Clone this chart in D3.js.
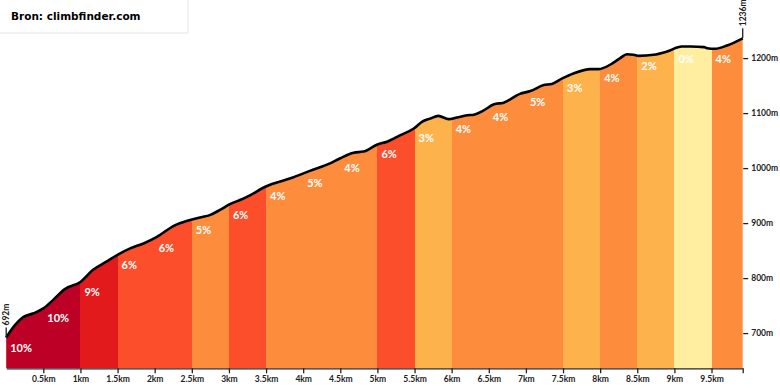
<!DOCTYPE html>
<html>
<head>
<meta charset="utf-8">
<script src="https://d3js.org/d3.v7.min.js"></script>
<style>
  body { margin: 0; background: #fff; }
  svg { display: block; }
</style>
</head>
<body>
<div id="chart"></div>
<script>
// profile (km, metres)
const distKm = [0, 0.12, 0.23, 0.37, 0.5, 0.63, 0.79, 1.0, 1.17, 1.35, 1.51, 1.67, 1.85, 2.03,
  2.27, 2.43, 2.61, 2.75, 2.88, 3.02, 3.15, 3.29, 3.49, 3.58, 3.82, 4.09, 4.37, 4.5, 4.68,
  4.81, 5.0, 5.13, 5.31, 5.49, 5.6, 5.71, 5.82, 5.96, 6.07, 6.21, 6.3, 6.42, 6.57, 6.7,
  6.92, 7.06, 7.24, 7.35, 7.49, 7.64, 7.87, 7.98, 8.16, 8.27, 8.36, 8.45, 8.52, 8.72,
  8.9, 9.1, 9.22, 9.4, 9.44, 9.55, 9.71, 9.92];
const elevM = [692, 715, 729, 736, 745, 760, 780, 793, 815, 830, 843, 854, 863, 875,
  896, 904, 910, 915, 924, 935, 942, 951, 966, 971, 981, 995, 1009, 1018, 1028,
  1030, 1043, 1048, 1060, 1072, 1084, 1090, 1095, 1089, 1092, 1096, 1097, 1104, 1116, 1119,
  1135, 1140, 1151, 1153, 1163, 1172, 1180, 1180, 1190, 1200, 1207, 1206, 1204, 1206,
  1212, 1221, 1221, 1220, 1218, 1217, 1223, 1236];

// gradient per 0.5 km segment
const segStart = [0, 0.5, 1, 1.5, 2, 2.5, 3, 3.5, 4, 4.5, 5, 5.5, 6, 6.5, 7, 7.5, 8, 8.5, 9, 9.5];
const segGrade = [10, 10, 9, 6, 6, 5, 6, 4, 5, 4, 6, 3, 4, 4, 5, 3, 4, 2, 0, 4];

const xTicks = [0.5, 1, 1.5, 2, 2.5, 3, 3.5, 4, 4.5, 5, 5.5, 6, 6.5, 7, 7.5, 8, 8.5, 9, 9.5];
const yTicks = [700, 800, 900, 1000, 1100, 1200];

const width = 780, height = 390;
const totalKm = distKm[distKm.length - 1];

const x = d3.scaleLinear().domain([0, totalKm]).range([6.2, 742.7]);
const y = d3.scaleLinear().domain([636, 1236]).range([368.3, 38.3]);

const color = g => g >= 10 ? "#bd0026" : g >= 8 ? "#e31a1c" : g >= 6 ? "#fc4e2a"
  : g >= 4 ? "#fd8d3c" : g >= 2 ? "#feb24c" : "#ffeda0";

const profile = distKm.map((d, i) => [d, elevM[i]]);
const elevAt = km => {
  const i = d3.bisector(d => d[0]).right(profile, km);
  if (i <= 0) return profile[0][1];
  if (i >= profile.length) return profile[profile.length - 1][1];
  const a = profile[i - 1], b = profile[i];
  return a[1] + (b[1] - a[1]) * (km - a[0]) / (b[0] - a[0]);
};

const svg = d3.select("#chart").append("svg")
  .attr("width", width).attr("height", height);

const area = d3.area().curve(d3.curveMonotoneX)
  .x(d => x(d[0])).y0(y(636)).y1(d => y(d[1]));
const line = d3.line().curve(d3.curveMonotoneX)
  .x(d => x(d[0])).y(d => y(d[1]));

svg.append("clipPath").attr("id", "under")
  .append("path").attr("d", area(profile));

svg.append("g").attr("clip-path", "url(#under)")
  .selectAll("rect")
  .data(segStart)
  .enter().append("rect")
  .attr("shape-rendering", "crispEdges")
  .attr("x", d => x(d))
  .attr("width", (d, i) => x(i < segStart.length - 1 ? segStart[i + 1] : totalKm) - x(d) + 1)
  .attr("y", 0)
  .attr("height", y(636))
  .attr("fill", (d, i) => color(segGrade[i]));

svg.append("path")
  .attr("d", line(profile))
  .attr("fill", "none")
  .attr("stroke", "#000")
  .attr("stroke-width", 2.6)
  .attr("stroke-linejoin", "round");

// gradient labels
svg.append("g")
  .selectAll("text")
  .data(segStart)
  .enter().append("text")
  .attr("x", d => x(d) + 4)
  .attr("y", d => y(elevAt(d)) + 14)
  .attr("fill", "#fff")
  .attr("font-family", "Lato, 'Open Sans', sans-serif")
  .attr("font-weight", "bold")
  .attr("font-size", "11px")
  .text((d, i) => segGrade[i] + "%");

// bottom axis
const xAxis = svg.append("g")
  .attr("transform", `translate(0,${y(636)})`)
  .call(d3.axisBottom(x).tickValues(xTicks.concat([totalKm]))
    .tickSize(5).tickSizeOuter(0).tickPadding(3)
    .tickFormat(d => d === totalKm ? "" : d + "km"));

// right axis
const yAxis = svg.append("g")
  .attr("transform", `translate(${x(totalKm) + 0.5},0)`)
  .call(d3.axisRight(y).tickValues(yTicks).tickSize(5).tickPadding(3)
    .tickFormat(d => d + "m"));
yAxis.select(".domain").remove();

[xAxis, yAxis].forEach(a => {
  a.selectAll("text")
    .attr("font-family", "Lato, 'Open Sans', sans-serif")
    .attr("font-weight", "bold")
    .attr("font-size", "8.5px")
    .attr("fill", "#222");
  a.selectAll("line, path").attr("stroke", "#222").attr("stroke-width", 1.3);
});

// start / end elevation markers
const ends = [profile[0], profile[profile.length - 1]];
const marks = svg.append("g").selectAll("g")
  .data(ends)
  .enter().append("g")
  .attr("transform", d => `translate(${x(d[0])},${y(d[1])})`);
marks.append("line")
  .attr("y1", 0).attr("y2", -10)
  .attr("stroke", "#222").attr("stroke-width", 1.3);
marks.append("text")
  .attr("transform", "translate(3,-12) rotate(-90)")
  .attr("font-family", "Lato, 'Open Sans', sans-serif")
  .attr("font-weight", "bold")
  .attr("font-size", "8.5px")
  .attr("fill", "#222")
  .text(d => d[1] + "m");

// source box
svg.append("rect")
  .attr("x", -1).attr("y", -1).attr("width", 189).attr("height", 34)
  .attr("fill", "#fff").attr("stroke", "#e6e6e6");
svg.append("text")
  .attr("x", 11).attr("y", 20)
  .attr("font-family", "'DejaVu Sans', Verdana, sans-serif")
  .attr("font-weight", "bold")
  .attr("font-size", "10.5px")
  .attr("fill", "#000")
  .text("Bron: climbfinder.com");
</script>
</body>
</html>
